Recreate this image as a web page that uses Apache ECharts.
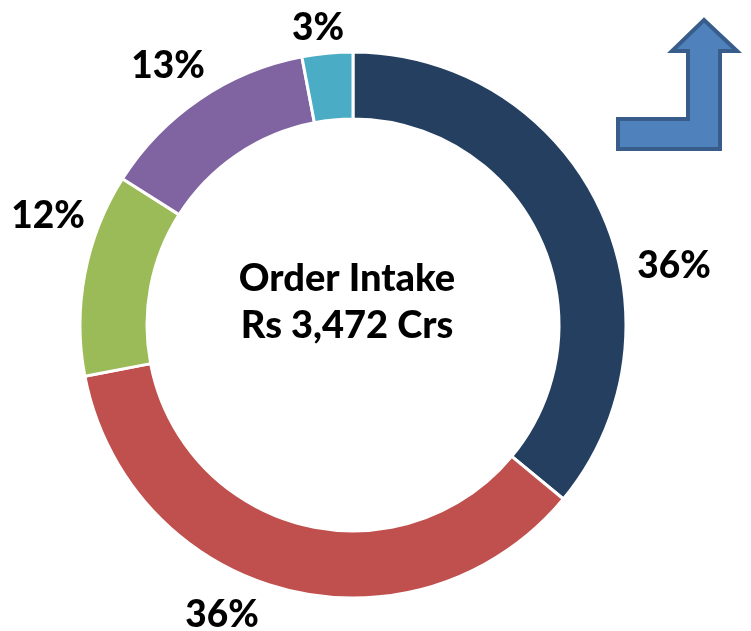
<!DOCTYPE html>
<html>
<head>
<meta charset="utf-8">
<script src="https://cdn.jsdelivr.net/npm/echarts@6/dist/echarts.min.js"></script>
<style>
  html, body { margin: 0; padding: 0; background: #fff; }
  #chart { width: 751px; height: 631px; }
</style>
</head>
<body>
<div id="chart"></div>
<script>
  // segments, clockwise from 12 o'clock
  var segments = ['Segment A', 'Segment B', 'Segment C', 'Segment D', 'Segment E'];
  var shares = [36, 36, 12, 13, 3];
  var colors = ['#253F60', '#C0504D', '#9BBB59', '#8064A2', '#4BACC6'];
  var centerTitle = 'Order Intake';
  var centerValue = 'Rs 3,472 Crs';

  // where the percent labels sit (label centres, px)
  var labelSpots = [[674, 266], [222, 615], [48, 216], [168, 66], [318, 28]];

  var txt = { fontFamily: 'Lato', fontWeight: 900, fontSize: 38, fill: '#000' };

  var chart = echarts.init(document.getElementById('chart'));
  chart.setOption({
    animation: false,
    color: colors,
    series: [{
      type: 'pie',
      center: [353, 325],
      radius: [206, 273],
      startAngle: 90,
      clockwise: true,
      avoidLabelOverlap: false,
      data: segments.map(function (name, i) {
        return { name: name, value: shares[i] };
      }),
      itemStyle: { borderColor: '#fff', borderWidth: 3 },
      label: {
        show: true,
        position: 'outside',
        formatter: '{c}%',
        fontFamily: 'Lato',
        fontWeight: 900,
        fontSize: 37,
        color: '#000'
      },
      labelLine: { show: false },
      labelLayout: function (p) {
        var s = labelSpots[p.dataIndex];
        return { x: s[0], y: s[1], align: 'center', verticalAlign: 'middle' };
      },
      emphasis: { disabled: true }
    }],
    graphic: [
      {
        type: 'text', x: 347, y: 279,
        style: Object.assign({ text: centerTitle, align: 'center', verticalAlign: 'middle' }, txt)
      },
      {
        type: 'text', x: 347, y: 326,
        style: Object.assign({ text: centerValue, align: 'center', verticalAlign: 'middle' }, txt)
      },
      {
        // bent "up" arrow in the corner
        type: 'polygon',
        shape: {
          points: [[704, 20], [737, 51], [720, 51], [720, 149], [618, 149],
                   [618, 119], [688, 119], [688, 51], [672, 51]]
        },
        style: { fill: '#4F81BD', stroke: '#385D8A', lineWidth: 4, lineJoin: 'miter' }
      }
    ]
  });
</script>
</body>
</html>
